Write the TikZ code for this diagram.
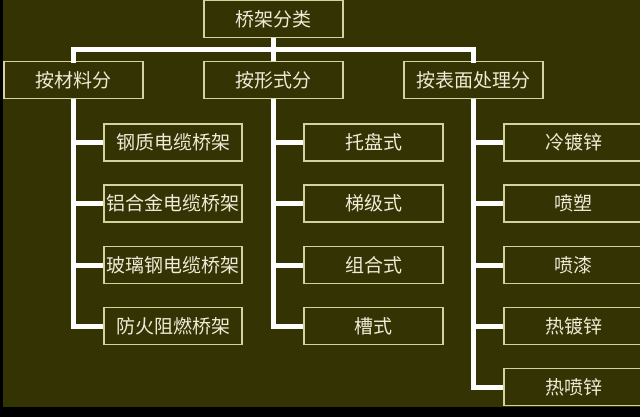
\documentclass[tikz,border=0pt]{standalone}
\usepackage{fontspec}
\newfontfamily\cjk{Noto Sans CJK SC}
\definecolor{bgol}{RGB}{52,51,3}
\definecolor{boxline}{RGB}{214,210,160}
\definecolor{txtc}{RGB}{238,236,215}
\begin{document}
\begin{tikzpicture}[x=1pt,y=-1pt,
  catbox/.style={draw=boxline,line width=1.3pt,minimum width=139pt,minimum height=37pt,inner sep=0pt,text=txtc,font=\cjk\fontsize{19}{19}\selectfont},
  conn/.style={draw=white,line width=5pt}]
\useasboundingbox (0,0) rectangle (640,417);
\clip (0,0) rectangle (640,417);
\fill[bgol] (0,0) rectangle (640,407);
\fill[black] (0,407) rectangle (640,417);
\fill[black] (0,0) rectangle (2.5,407);
% nodes
\node[catbox] (root) at (273.5,19) {桥架分类};
\node[catbox] (a) at (73.5,80) {按材料分};
\node[catbox] (b) at (273.5,80) {按形式分};
\node[catbox] (c) at (473.5,80) {按表面处理分};
\node[catbox,minimum width=138pt] (a1) at (173,142.5) {钢质电缆桥架};
\node[catbox,minimum width=138pt] (a2) at (173,203.5) {铝合金电缆桥架};
\node[catbox,minimum width=138pt] (a3) at (173,265) {玻璃钢电缆桥架};
\node[catbox,minimum width=138pt] (a4) at (173,326) {防火阻燃桥架};
\node[catbox] (b1) at (373.5,142.5) {托盘式};
\node[catbox] (b2) at (373.5,203.5) {梯级式};
\node[catbox] (b3) at (373.5,265) {组合式};
\node[catbox] (b4) at (373.5,326) {槽式};
\node[catbox] (c1) at (573.5,142.5) {冷镀锌};
\node[catbox] (c2) at (573.5,203.5) {喷塑};
\node[catbox] (c3) at (573.5,265) {喷漆};
\node[catbox] (c4) at (573.5,326) {热镀锌};
\node[catbox] (c5) at (573.5,387) {热喷锌};
\coordinate (hub) at (273.5,50);
% connectors
\draw[conn] (root.south) -- (hub);
\draw[conn,line cap=rect] (a.north) |- (hub) -| (c.north);
\draw[conn] (hub) -- (b.north);
\draw[conn] (a.south) |- (a4.west);
\draw[conn] (a.south |- a1.west) -- (a1.west);
\draw[conn] (a.south |- a2.west) -- (a2.west);
\draw[conn] (a.south |- a3.west) -- (a3.west);
\draw[conn] (b.south) |- (b4.west);
\draw[conn] (b.south |- b1.west) -- (b1.west);
\draw[conn] (b.south |- b2.west) -- (b2.west);
\draw[conn] (b.south |- b3.west) -- (b3.west);
\draw[conn] (c.south) |- (c5.west);
\draw[conn] (c.south |- c1.west) -- (c1.west);
\draw[conn] (c.south |- c2.west) -- (c2.west);
\draw[conn] (c.south |- c3.west) -- (c3.west);
\draw[conn] (c.south |- c4.west) -- (c4.west);
\end{tikzpicture}
\end{document}
